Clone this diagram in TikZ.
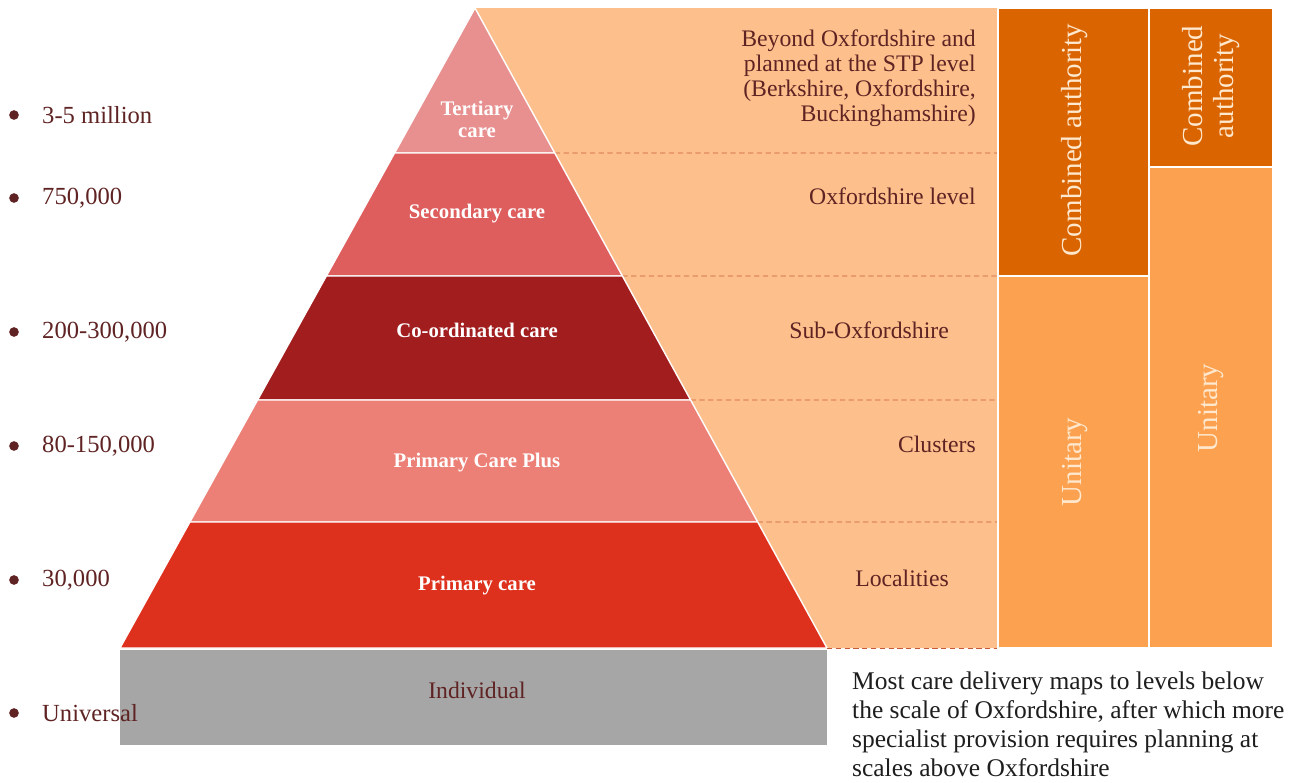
\documentclass[tikz,border=0pt]{standalone}
\usepackage{fontspec}
\setmainfont{Liberation Serif}
\usetikzlibrary{calc}
\definecolor{peach}{RGB}{253,192,140}
\definecolor{authority}{RGB}{217,100,0}
\definecolor{unitary}{RGB}{251,161,80}
\definecolor{tertiary}{RGB}{232,144,143}
\definecolor{secondary}{RGB}{222,94,94}
\definecolor{coordinated}{RGB}{161,29,30}
\definecolor{primaryplus}{RGB}{236,128,118}
\definecolor{primary}{RGB}{222,49,29}
\definecolor{individual}{RGB}{166,166,166}
\definecolor{brownink}{RGB}{95,35,35}
\definecolor{dashink}{RGB}{200,90,60}
\definecolor{creamink}{RGB}{255,232,205}

\begin{document}
\begin{tikzpicture}[x=0.02cm,y=-0.02cm,
  band/.style={draw=white,line width=0.8pt},
  levelline/.style={densely dashed,draw=dashink,line width=0.5pt},
  pyrlabel/.style={text=white,font=\bfseries\fontsize{11.8}{12.5}\selectfont,align=center},
  poplabel/.style={text=brownink,anchor=west,font=\fontsize{14}{16}\selectfont},
  popdot/.style={circle,fill=brownink,inner sep=0pt,minimum size=5.5pt},
  levellabel/.style={text=brownink,anchor=east,align=right,font=\fontsize{13.5}{14.2}\selectfont},
  govlabel/.style={text=creamink,rotate=90,align=center,font=\fontsize{16.5}{17.5}\selectfont}]
\useasboundingbox (0,0) rectangle (1309,782);

\coordinate (apex) at (475,8);
\coordinate (bl) at (120,648);
\coordinate (br) at (827,648);

% background of the levels
\fill[peach] (apex) -- (997,8) -- (997,648) -- (br) -- cycle;

% pyramid bands
\foreach \ta/\tb/\y/\col in {0/0.2266/153/tertiary, 0.2266/0.4188/276/secondary,
  0.4188/0.6125/400/coordinated, 0.6125/0.8031/522/primaryplus, 0.8031/1/648/primary}{
  \fill[\col,band] ($(apex)!\ta!(bl)$) -- ($(apex)!\tb!(bl)$) -- ($(apex)!\tb!(br)$) -- ($(apex)!\ta!(br)$) -- cycle;
  \draw[levelline] ($(apex)!\tb!(br)$) -- (997,\y);
}
\fill[individual] (120,650) rectangle (827,745);

\node[pyrlabel] (tert) at (477,119) {Tertiary\\care};
\node[pyrlabel] (sec) at (477,214) {Secondary care};
\node[pyrlabel] (coord) at (477,330) {Co-ordinated care};
\node[pyrlabel] (pplus) at (477,463) {Primary Care Plus};
\node[pyrlabel] (prim) at (477,586) {Primary care};
\node[text=brownink,font=\fontsize{13.5}{15}\selectfont] (indiv) at (477,690) {Individual};

% population scale
\foreach \y/\txt [count=\i] in {115/3-5 million, 198/{750,000}, 332/{200-300,000},
  446/{80-150,000}, 580/{30,000}, 713/Universal}{
  \node[popdot] (dot\i) at (14,\y) {};
  \node[poplabel] (pop\i) at (36,\y) {\txt};
}

% planning levels
\node[levellabel] (stp) at (982,78) {Beyond Oxfordshire and\\planned at the STP level\\(Berkshire, Oxfordshire,\\Buckinghamshire)};
\node[levellabel] (oxon) at (982,196) {Oxfordshire level};
\node[levellabel] (suboxon) at (955,330) {Sub-Oxfordshire};
\node[levellabel] (clust) at (982,444) {Clusters};
\node[levellabel] (local) at (955,578) {Localities};

% governance columns
\fill[authority,band] (998,8) rectangle (1149,276);
\fill[unitary,band] (998,276) rectangle (1149,648);
\fill[authority,band] (1149,8) rectangle (1273,167);
\fill[unitary,band] (1149,167) rectangle (1273,648);
\node[govlabel] (comb1) at (1075,140) {Combined authority};
\node[govlabel] (unit1) at (1075,462) {Unitary};
\node[govlabel] (comb2) at (1211,86) {Combined\\authority};
\node[govlabel] (unit2) at (1211,408) {Unitary};

\node[anchor=north west,align=left,text={rgb,255:red,30;green,30;blue,30},
  font=\fontsize{14.5}{16.5}\selectfont] (note) at (846,666)
  {Most care delivery maps to levels below\\the scale of Oxfordshire, after which more\\specialist provision requires planning at\\scales above Oxfordshire};
\end{tikzpicture}
\end{document}
